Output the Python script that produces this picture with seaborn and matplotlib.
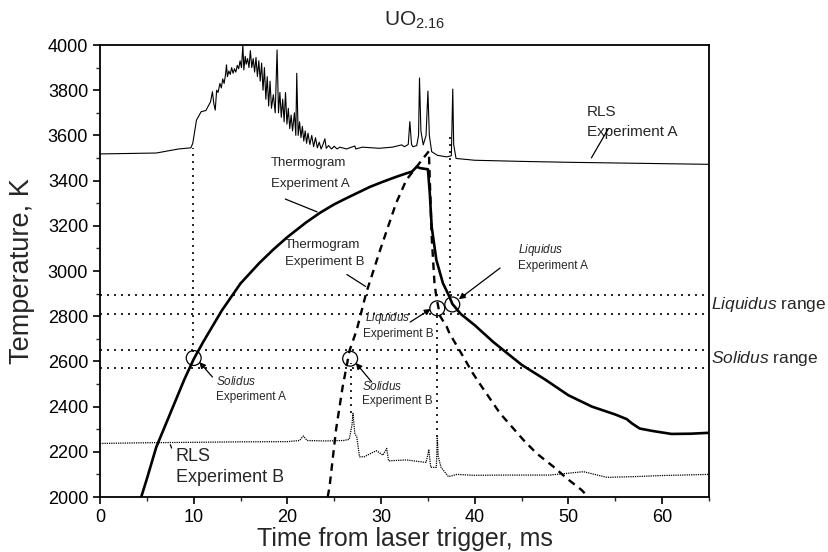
import matplotlib
matplotlib.use('Agg')
import matplotlib.pyplot as plt
import seaborn as sns
from matplotlib.ticker import MultipleLocator

# ---------------- data ----------------
rls_a_t = [0, 3, 6, 8.4, 9.7, 9.9, 10.3, 10.8, 11.3, 11.8,
           12.0, 12.15, 12.3, 12.45, 12.6, 12.8, 12.95, 13.1, 13.25, 13.4,
           13.5, 13.6, 13.75, 13.9, 14.05, 14.2, 14.35, 14.5, 14.65, 14.8,
           14.95, 15.1, 15.25, 15.35, 15.5, 15.6, 15.75, 15.9, 16.05, 16.2,
           16.35, 16.5, 16.65, 16.8, 16.95, 17.1, 17.25, 17.4, 17.55, 17.7,
           17.85, 18.0, 18.15, 18.3, 18.5, 18.7, 18.9, 19.05, 19.2, 19.35,
           19.5, 19.65, 19.8, 19.95, 20.1, 20.25, 20.4, 20.55, 20.75, 20.9,
           21.0, 21.15, 21.3, 21.45, 21.6, 21.75, 21.9, 22.05, 22.2, 22.4,
           22.6, 22.8, 23.0, 23.2, 23.4, 23.6, 23.8, 24.0, 24.15, 24.4,
           24.7, 25.0, 25.3, 25.6, 26.3, 27.2, 27.3, 28.0, 29.8, 31.2,
           32.2, 32.5, 32.9, 33.07, 33.25, 33.4, 33.8, 34.0, 34.1, 34.25,
           34.5, 34.8, 35.0, 35.15, 35.4, 36.0, 37.0, 37.5, 37.65, 37.75,
           38.0, 40, 45, 50, 55, 60, 65]
rls_a_T = [3518, 3520, 3522, 3540, 3545, 3565, 3668, 3705, 3710, 3749,
           3793, 3740, 3712, 3800, 3790, 3830, 3810, 3850, 3830, 3870,
           3912, 3860, 3885, 3870, 3900, 3875, 3895, 3880, 3910, 3895,
           3930, 3900, 4000, 3890, 3950, 3915, 3940, 3900, 3975, 3900,
           3940, 3880, 3945, 3860, 3930, 3840, 3920, 3800, 3900, 3760,
           3860, 3730, 3840, 3720, 3780, 3700, 3978, 3700, 3790, 3680,
           3760, 3660, 3790, 3650, 3720, 3630, 3690, 3620, 3700, 3600,
           3875, 3600, 3660, 3590, 3640, 3575, 3620, 3565, 3610, 3560,
           3600, 3550, 3590, 3545, 3570, 3540, 3560, 3585, 3543, 3555,
           3540, 3552, 3540, 3548, 3540, 3553, 3540, 3548, 3543, 3548,
           3558, 3550, 3560, 3661, 3560, 3550, 3555, 3600, 3854, 3620,
           3558, 3600, 3796, 3600, 3528, 3512, 3505, 3510, 3805, 3560,
           3498, 3490, 3485, 3481, 3478, 3475, 3472]

thermo_a_t = [4.4, 5, 6, 7, 8, 9, 10, 11, 12, 13, 15, 17, 18.5, 20, 22, 23.5,
              25, 26.3, 27.4, 28.8, 30.2, 31.5, 32.7, 33.3, 33.8, 34.2, 35.0,
              35.2, 35.4, 35.9, 36.6, 37.3, 37.6, 38.5, 40, 42, 45, 47.5, 50,
              52.5, 55, 56.2, 56.8, 57.6, 59, 61, 63, 65]
thermo_a_T = [2000, 2080, 2220, 2320, 2420, 2520, 2610, 2685, 2755, 2825, 2945,
              3035, 3095, 3150, 3215, 3258, 3295, 3322, 3344, 3372, 3395, 3415,
              3432, 3440, 3461, 3455, 3450, 3344, 3196, 3049, 2946, 2886, 2855,
              2810, 2760, 2685, 2585, 2520, 2450, 2400, 2365, 2345, 2325, 2303,
              2292, 2279, 2280, 2284]

thermo_b_t = [24.3, 24.5, 25.2, 25.9, 26.65, 27.4, 28.4, 29.9, 31.6, 32.7, 34.5,
              35.1, 35.4, 35.7, 35.9, 36.3, 37.0, 37.3, 38.5, 39.8, 40.5, 42.7,
              45.2, 46.6, 48.4, 49.8, 51.4, 52.0]
thermo_b_T = [2000, 2045, 2300, 2488, 2650, 2739, 2901, 3093, 3300, 3403, 3499,
              3530, 3152, 2946, 2886, 2800, 2754, 2724, 2640, 2547, 2503, 2370,
              2252, 2193, 2134, 2083, 2031, 2005]

rls_b_t = [0, 5, 10, 15, 20, 21.3, 21.7, 22.1, 24, 26, 26.6, 26.9, 27.0, 27.2,
           27.4, 27.7, 28.2, 29.0, 29.5, 30.2, 30.6, 30.8, 32.7, 34.8, 35.1,
           35.3, 35.9, 36.0, 36.1, 36.4, 37.2, 38.1, 39.9, 42.7, 48, 51.6,
           54.1, 56.9, 60, 65]
rls_b_T = [2237, 2240, 2242, 2244, 2245, 2250, 2270, 2250, 2248, 2250, 2255,
           2320, 2370, 2280, 2267, 2178, 2178, 2195, 2205, 2185, 2215, 2160,
           2164, 2153, 2208, 2131, 2131, 2264, 2180, 2131, 2090, 2100, 2096,
           2097, 2097, 2112, 2087, 2090, 2095, 2100]

range_T = [2893, 2809, 2650, 2572]                 # liquidus / solidus ranges
circle_t = [10.0, 26.7, 36.0, 37.6]                # solidus A, solidus B, liquidus B, liquidus A
circle_T = [2615, 2612, 2835, 2852]
vline_t = [9.9, 26.8, 36.0, 37.4]
vline_lo = [2640, 2370, 2264, 2870]
vline_hi = [3545, 2595, 2815, 3600]

x_ticks = [0, 10, 20, 30, 40, 50, 60]
y_ticks = [2000, 2200, 2400, 2600, 2800, 3000, 3200, 3400, 3600, 3800, 4000]

# ---------------- style ----------------
sns.set_theme(style='ticks')
plt.rcParams['font.family'] = ['Liberation Sans', 'DejaVu Sans']
plt.rcParams['mathtext.fontset'] = 'custom'
plt.rcParams['mathtext.rm'] = 'Liberation Sans'
plt.rcParams['mathtext.it'] = 'Liberation Sans:italic'
plt.rcParams['axes.linewidth'] = 1.3

fig = plt.figure(figsize=(8.29, 5.52), dpi=100)
ax = fig.add_axes([100 / 829, 1 - 497 / 552, 609 / 829, 452 / 552])

# reference dotted lines
for T in range_T:
    ax.axhline(T, color='black', lw=1.2, linestyle=(0, (1.2, 3.0)), zorder=1)
ax.vlines(vline_t, vline_lo, vline_hi, colors='black', lw=1.2,
          linestyles=[(0, (1.2, 3.0))], zorder=1)

# curves
sns.lineplot(x=rls_a_t, y=rls_a_T, ax=ax, color='black', lw=0.8,
             estimator=None, sort=False)
sns.lineplot(x=thermo_a_t, y=thermo_a_T, ax=ax, color='black', lw=1.9,
             estimator=None, sort=False)
sns.lineplot(x=thermo_b_t, y=thermo_b_T, ax=ax, color='black', lw=1.7,
             estimator=None, sort=False, linestyle=(0, (3.2, 2.4)))
sns.lineplot(x=rls_b_t, y=rls_b_T, ax=ax, color='black', lw=0.9,
             estimator=None, sort=False, linestyle=(0, (1, 0.8)))

# circles
sns.scatterplot(x=circle_t, y=circle_T, ax=ax, s=115, marker='o',
                facecolors='none', edgecolor='black', linewidth=0.9, zorder=5)

ax.set_xlim(0, 65)
ax.set_ylim(2000, 4000)
ax.set_xticks(x_ticks)
ax.set_yticks(y_ticks)
ax.xaxis.set_minor_locator(MultipleLocator(5))
ax.yaxis.set_minor_locator(MultipleLocator(100))
ax.tick_params(axis='both', which='major', direction='out', length=5,
               width=1.2, labelsize=13, colors='black')
ax.tick_params(axis='both', which='minor', direction='out', length=3,
               width=1.0)
for s in ax.spines.values():
    s.set_visible(True)
    s.set_color('black')

ax.set_xlabel('Time from laser trigger, ms', fontsize=18, labelpad=1)
ax.set_ylabel('Temperature, K', fontsize=19.5, labelpad=9)
ax.set_title(r'UO$_{\mathrm{2.16}}$', fontsize=15, pad=14, x=0.516)

# labels with leader lines
big = 11
mid = 9.5
small = 8.5
ax.text(52.0, 3703, 'RLS', fontsize=big, va='center')
ax.text(52.0, 3615, 'Experiment A', fontsize=big, va='center')
ax.annotate('', xy=(52.3, 3490), xytext=(54.4, 3640),
            arrowprops=dict(arrowstyle='-', color='black', lw=0.9))

ax.text(18.2, 3478, 'Thermogram', fontsize=mid, va='center')
ax.text(18.2, 3385, 'Experiment A', fontsize=mid, va='center')
ax.annotate('', xy=(23.45, 3257), xytext=(19.5, 3323),
            arrowprops=dict(arrowstyle='-', color='black', lw=0.9))

ax.text(19.7, 3115, 'Thermogram', fontsize=mid, va='center')
ax.text(19.7, 3040, 'Experiment B', fontsize=mid, va='center')
ax.annotate('', xy=(28.6, 2925), xytext=(26.1, 2991),
            arrowprops=dict(arrowstyle='-', color='black', lw=0.9))

ax.text(8.1, 2181, 'RLS', fontsize=13, va='center')
ax.text(8.1, 2085, 'Experiment B', fontsize=13, va='center')
ax.annotate('', xy=(7.4, 2243), xytext=(7.75, 2205),
            arrowprops=dict(arrowstyle='-', color='black', lw=0.9))

arrow_kw = dict(arrowstyle='-|>', color='black', lw=0.9, mutation_scale=9,
                shrinkA=0, shrinkB=0)
ax.text(12.4, 2509, r'$\mathit{Solidus}$', fontsize=small, va='center')
ax.text(12.4, 2442, 'Experiment A', fontsize=small, va='center')
ax.annotate('', xy=(10.6, 2597), xytext=(12.0, 2531), arrowprops=arrow_kw)

ax.text(27.95, 2487, r'$\mathit{Solidus}$', fontsize=small, va='center')
ax.text(27.95, 2425, 'Experiment B', fontsize=small, va='center')
ax.annotate('', xy=(27.3, 2593), xytext=(29.0, 2509), arrowprops=arrow_kw)

ax.text(28.3, 2792, r'$\mathit{Liquidus}$', fontsize=small, va='center')
ax.text(28.1, 2721, 'Experiment B', fontsize=small, va='center')
ax.annotate('', xy=(35.3, 2832), xytext=(33.1, 2774), arrowprops=arrow_kw)

ax.text(44.6, 3093, r'$\mathit{Liquidus}$', fontsize=small, va='center')
ax.text(44.6, 3022, 'Experiment A', fontsize=small, va='center')
ax.annotate('', xy=(38.3, 2875), xytext=(42.7, 3013), arrowprops=arrow_kw)

ax.text(65.2, (range_T[0] + range_T[1]) / 2, r'$\mathit{Liquidus}$ range',
        fontsize=12.5, va='center', ha='left', clip_on=False)
ax.text(65.2, (range_T[2] + range_T[3]) / 2, r'$\mathit{Solidus}$ range',
        fontsize=12.5, va='center', ha='left', clip_on=False)

fig.savefig('out.png', dpi=100)
